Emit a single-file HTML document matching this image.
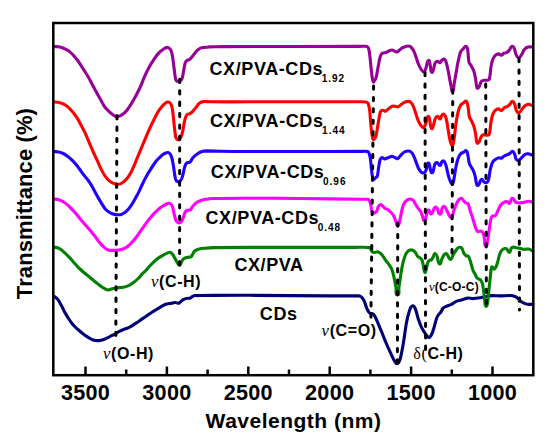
<!DOCTYPE html>
<html><head><meta charset="utf-8"><style>
html,body{margin:0;padding:0;background:#fff;}
body{width:550px;height:440px;overflow:hidden;position:relative;}
svg{position:absolute;left:0;top:0;}
text{font-family:"Liberation Sans",sans-serif;font-weight:bold;fill:#000;}
.s{font-family:"Liberation Serif",serif;font-weight:normal;}
.su{font-family:"Liberation Serif",serif;font-weight:normal;font-size:1.08em;}
.si{font-family:"Liberation Serif",serif;font-weight:normal;font-style:italic;font-size:1.05em;}
</style></head><body>
<svg width="550" height="440" viewBox="0 0 550 440">
<g fill="none" stroke-width="3.1" stroke-linejoin="round" stroke-linecap="round">
<path d="M54.0 296.3C55.2 297.2 56.6 297.9 57.5 299.1C58.9 300.8 59.9 302.8 61.0 304.8C62.2 307.0 63.2 309.4 64.4 311.6C65.5 313.5 66.6 315.4 67.8 317.3C68.9 319.0 69.9 320.8 71.2 322.4C72.6 324.2 74.1 325.9 75.7 327.5C77.1 328.9 78.8 330.2 80.3 331.5C81.2 332.3 82.1 333.0 83.0 333.7C84.1 334.5 85.1 335.3 86.2 336.1C87.2 336.8 88.3 337.5 89.4 338.1C90.4 338.7 91.4 339.3 92.5 339.7C93.5 340.1 94.6 340.3 95.7 340.5C96.8 340.6 97.8 340.7 98.9 340.6C100.0 340.5 101.1 340.4 102.1 340.1C103.2 339.8 104.3 339.4 105.3 338.9C106.4 338.4 107.4 337.8 108.5 337.3C109.5 336.8 110.6 336.2 111.6 335.7C112.7 335.2 113.8 334.7 114.8 334.1C115.9 333.5 116.9 332.7 118.0 332.1C119.0 331.5 120.1 331.0 121.2 330.5C122.0 330.1 122.8 329.8 123.6 329.5C124.8 329.0 126.1 328.7 127.3 328.2C128.5 327.7 129.7 327.1 130.9 326.4C132.1 325.7 133.3 324.9 134.5 324.1C135.7 323.3 137.0 322.6 138.2 321.8C139.4 321.0 140.6 319.9 141.8 319.1C143.0 318.3 144.3 317.6 145.5 316.8C146.7 316.0 147.9 315.0 149.1 314.1C150.3 313.3 151.5 312.6 152.7 311.8C153.9 311.0 155.2 310.3 156.4 309.5C157.6 308.8 158.8 308.0 160.0 307.3C161.3 306.6 162.5 305.7 163.8 305.1C164.7 304.7 165.7 304.4 166.7 304.1C167.6 303.9 168.6 303.8 169.6 303.6C170.6 303.4 171.5 303.3 172.5 303.1C173.5 302.9 174.5 302.5 175.5 302.5C176.5 302.5 177.4 303.3 178.4 303.3C178.9 303.3 179.4 302.8 179.8 302.5C180.6 301.9 181.2 301.0 182.0 300.4C182.9 299.8 183.9 299.3 184.9 298.9C185.8 298.5 186.8 298.3 187.8 298.2C188.5 298.1 189.3 298.4 190.0 298.2C190.8 297.9 191.4 297.1 192.2 296.7C193.1 296.2 194.1 295.8 195.1 295.6C196.0 295.4 197.0 295.6 198.0 295.6C198.7 295.6 199.3 295.5 200.0 295.5C216.7 295.4 233.3 295.2 250.0 295.3C276.7 295.4 303.3 295.8 330.0 295.9C339.5 296.0 348.9 295.7 358.4 295.9C359.2 295.9 360.0 296.1 360.7 296.5C361.6 297.1 362.4 297.9 363.0 298.8C363.7 299.8 364.2 301.0 364.7 302.2C365.4 303.9 365.7 305.6 366.4 307.3C367.0 308.8 367.7 310.4 368.6 311.8C369.0 312.5 369.6 313.1 370.3 313.5C370.8 313.8 371.5 313.3 372.0 313.5C372.7 313.7 373.3 314.2 373.8 314.7C374.5 315.5 375.0 316.5 375.5 317.5C376.2 319.0 376.9 320.5 377.5 322.0C378.9 325.3 380.3 328.5 381.6 331.8C383.1 335.4 384.4 339.0 385.9 342.5C387.3 345.8 388.7 349.0 390.2 352.2C391.6 355.1 392.8 358.1 394.5 360.9C395.2 362.0 395.9 364.0 397.1 363.7C398.7 363.4 399.4 361.3 399.9 359.8C401.4 354.9 402.2 349.8 403.1 344.7C404.4 337.5 405.1 330.3 406.4 323.1C407.2 318.7 408.2 314.4 409.6 310.2C410.1 308.6 410.6 306.5 412.2 305.9C413.3 305.5 414.5 306.9 415.0 308.0C416.6 311.4 417.0 315.2 418.2 318.8C419.2 321.7 420.2 324.6 421.5 327.4C422.4 329.3 423.6 331.0 424.7 332.8C425.2 333.6 425.7 334.3 426.3 335.0C426.8 335.6 427.3 336.3 427.9 336.8C428.3 337.1 429.0 337.8 429.4 337.5C430.6 336.6 431.3 335.2 431.9 333.8C433.0 331.4 433.6 328.8 434.4 326.3C435.3 323.4 435.8 320.4 436.9 317.5C437.3 316.4 438.1 315.4 438.8 314.4C439.3 313.7 440.1 313.2 440.6 312.5C441.6 311.1 442.0 309.3 443.1 308.1C443.9 307.2 445.2 306.8 446.3 306.3C447.9 305.6 449.7 305.2 451.3 304.4C453.1 303.5 454.5 302.1 456.3 301.3C457.9 300.6 459.6 300.5 461.3 300.0C463.4 299.4 465.4 298.4 467.5 298.1C469.2 297.9 470.8 298.6 472.5 298.6C475.0 298.5 477.5 298.2 480.0 297.8C482.0 297.5 484.0 296.9 486.0 296.5C488.0 296.1 490.0 295.7 492.0 295.6C494.7 295.5 497.3 295.9 500.0 295.9C503.3 295.9 506.7 295.4 510.0 295.5C511.7 295.6 513.4 295.9 515.0 296.5C516.1 296.9 517.1 297.7 518.0 298.5C519.1 299.4 519.9 300.7 521.0 301.5C522.2 302.4 523.6 303.1 525.0 303.6C526.3 304.1 527.6 304.3 529.0 304.4C530.3 304.5 531.7 304.1 533.0 304.0" stroke="#000078"/>
<path d="M54.0 247.2C55.2 247.4 56.5 247.3 57.6 247.7C58.9 248.2 60.1 248.9 61.2 249.7C62.7 250.8 64.0 252.1 65.3 253.3C66.7 254.6 68.1 256.0 69.4 257.4C70.8 258.9 72.1 260.5 73.4 262.0C74.8 263.5 76.1 265.1 77.5 266.6C78.8 268.0 80.2 269.2 81.6 270.5C82.9 271.7 84.3 272.8 85.7 274.0C87.2 275.3 88.8 276.5 90.3 277.8C91.5 278.8 92.7 279.7 93.9 280.7C95.1 281.7 96.3 282.7 97.5 283.6C98.7 284.6 99.9 285.5 101.2 286.4C102.4 287.2 103.6 287.9 104.8 288.6C105.8 289.1 106.8 289.9 108.0 290.0C109.1 290.1 110.1 289.4 111.2 289.1C112.4 288.8 113.6 288.4 114.8 288.2C116.3 287.9 117.9 287.8 119.4 287.6C121.1 287.4 122.8 287.4 124.5 287.0C126.1 286.6 127.6 286.0 129.1 285.3C130.7 284.5 132.2 283.6 133.6 282.5C135.2 281.3 136.8 279.9 138.2 278.5C139.8 276.9 141.1 275.0 142.7 273.4C143.6 272.5 144.7 271.7 145.6 270.8C147.0 269.3 148.1 267.7 149.5 266.2C151.0 264.6 152.5 263.1 154.1 261.6C155.5 260.3 157.0 259.0 158.6 257.9C160.1 256.9 161.6 256.0 163.2 255.1C164.7 254.3 166.2 253.5 167.7 252.9C168.5 252.6 169.3 252.1 170.1 252.3C171.1 252.6 171.8 253.5 172.5 254.3C173.5 255.5 174.1 256.9 174.9 258.3C175.7 259.8 176.4 261.3 177.3 262.7C177.9 263.6 178.3 264.9 179.3 265.1C180.0 265.3 180.5 264.1 180.9 263.5C181.5 262.5 181.7 261.3 182.4 260.3C182.9 259.5 183.6 258.8 184.4 258.3C185.1 257.8 186.0 257.7 186.8 257.5C187.6 257.3 188.4 257.2 189.2 257.1C189.9 257.0 190.7 257.1 191.2 256.7C191.8 256.2 192.0 255.4 192.4 254.7C192.9 253.8 193.4 252.8 194.0 251.9C194.4 251.3 194.9 250.8 195.5 250.5C196.7 249.9 197.9 249.3 199.2 249.0C201.1 248.5 203.1 248.4 205.1 248.2C208.1 247.9 211.0 247.7 214.0 247.6C226.0 247.4 238.0 247.4 250.0 247.4C266.7 247.4 283.3 247.4 300.0 247.4C318.3 247.4 336.7 247.3 355.0 247.4C359.8 247.4 364.7 246.9 369.5 247.6C370.3 247.7 370.5 248.9 371.0 249.6C371.5 250.3 371.5 251.3 372.2 251.8C372.8 252.3 373.8 252.5 374.6 252.5C375.6 252.5 376.5 251.7 377.5 251.8C378.6 252.0 379.7 252.6 380.5 253.3C381.7 254.3 382.5 255.7 383.4 256.9C384.4 258.3 385.3 259.9 386.3 261.3C387.2 262.5 388.3 263.6 389.2 264.9C390.3 266.5 391.4 268.2 392.1 270.0C393.1 272.8 393.6 275.8 394.3 278.7C394.9 281.6 395.4 284.6 396.0 287.5C396.5 290.0 395.0 295.0 397.5 295.0C400.0 295.0 398.5 290.0 398.9 287.5C399.6 283.1 400.1 278.8 400.8 274.4C401.4 270.5 402.1 266.6 403.0 262.7C403.6 260.3 404.3 257.8 405.2 255.5C405.7 254.2 406.4 252.9 407.4 251.8C408.2 250.9 409.2 250.2 410.3 249.9C411.3 249.7 412.3 250.0 413.2 250.4C414.1 250.9 414.8 251.7 415.4 252.5C416.2 253.6 416.6 255.1 417.5 256.2C418.1 256.9 419.0 257.0 419.7 257.6C420.5 258.3 421.5 258.9 421.9 259.8C422.7 261.6 422.9 263.7 423.4 265.6C423.9 267.8 423.4 270.4 424.8 272.2C425.5 273.1 426.0 270.3 426.3 269.3C427.0 267.1 427.0 264.8 427.7 262.7C428.0 261.9 428.5 261.0 429.2 260.5C429.8 260.0 430.9 260.3 431.4 259.8C432.4 258.8 432.8 257.4 433.5 256.2C434.0 255.3 434.0 253.4 435.0 253.6C436.3 253.9 436.8 255.7 437.3 257.0C438.3 259.2 437.4 262.8 439.5 263.9C441.0 264.7 441.0 260.8 441.8 259.3C442.6 257.8 443.0 256.1 444.1 254.8C444.6 254.1 445.7 253.1 446.4 253.6C447.9 254.6 448.1 256.8 449.2 258.2C449.6 258.7 450.4 259.7 450.9 259.3C452.2 258.2 452.4 256.3 453.2 254.8C454.1 253.2 454.9 251.6 456.0 250.2C456.8 249.1 457.6 247.9 458.9 247.4C459.8 247.1 461.1 247.3 461.7 248.0C463.0 249.6 463.0 251.9 464.0 253.6C464.5 254.5 465.4 255.3 466.3 255.9C466.9 256.3 468.1 255.9 468.5 256.5C469.7 258.3 470.1 260.6 470.8 262.7C471.7 265.3 472.1 268.1 473.1 270.7C473.6 271.9 474.5 272.9 475.1 274.1C475.8 275.4 476.2 277.1 477.2 278.2C478.0 279.0 479.4 278.9 480.2 279.7C481.2 280.7 481.8 282.0 482.3 283.3C482.9 284.9 483.0 286.7 483.3 288.4C483.7 291.1 484.0 293.9 484.3 296.6C484.6 299.5 484.7 302.4 485.3 305.3C485.4 305.8 486.0 306.6 486.4 306.3C487.1 305.7 487.2 304.6 487.4 303.7C487.9 301.0 488.1 298.3 488.4 295.6C488.8 292.2 489.0 288.7 489.4 285.3C489.7 282.2 490.1 279.2 490.4 276.1C490.7 273.2 490.8 270.3 491.4 267.5C491.5 267.1 492.0 266.6 492.3 266.8C493.2 267.3 493.7 269.6 494.5 269.0C496.3 267.7 496.7 265.1 497.4 263.0C498.4 260.1 498.7 256.9 499.8 254.0C500.4 252.5 501.2 251.0 502.3 249.8C502.9 249.1 503.9 248.8 504.8 248.6C505.5 248.5 506.3 248.6 506.8 249.0C507.9 249.9 507.9 252.8 509.3 252.5C510.9 252.2 510.4 249.5 511.3 248.2C511.8 247.6 512.6 247.1 513.4 247.0C514.4 246.9 515.2 247.6 516.2 247.8C517.3 248.0 518.4 248.0 519.5 248.2C521.1 248.5 522.7 249.2 524.4 249.3C525.8 249.4 527.1 248.8 528.5 249.0C530.0 249.2 531.2 250.1 532.6 250.7" stroke="#008000"/>
<path d="M54.0 199.0C55.6 199.2 57.2 199.3 58.7 199.7C60.3 200.2 61.8 200.9 63.2 201.7C64.8 202.7 66.4 203.9 67.8 205.1C69.4 206.5 70.8 208.1 72.3 209.6C73.9 211.3 75.4 212.9 76.9 214.7C78.5 216.6 79.9 218.5 81.4 220.4C82.6 221.8 83.8 223.1 85.0 224.5C86.0 225.7 87.1 226.8 88.1 228.0C89.1 229.2 90.1 230.3 91.1 231.5C92.1 232.8 93.2 234.0 94.2 235.3C95.3 236.7 96.3 238.1 97.3 239.5C98.3 240.8 99.2 242.2 100.3 243.4C101.3 244.5 102.3 245.6 103.4 246.6C104.4 247.5 105.4 248.5 106.5 249.2C107.3 249.7 108.1 250.1 109.0 250.3C110.2 250.5 111.4 250.4 112.6 250.4C113.8 250.4 115.0 250.3 116.2 250.2C117.5 250.1 118.8 250.1 120.0 249.8C121.7 249.4 123.5 248.9 125.0 248.1C126.8 247.1 128.5 245.8 130.0 244.4C131.8 242.7 133.4 240.8 135.0 238.8C136.8 236.6 138.3 234.2 140.0 231.9C141.7 229.5 143.3 227.2 145.0 224.8C146.0 223.4 147.0 222.0 148.1 220.6C149.1 219.4 150.1 218.2 151.1 217.0C152.1 215.8 153.1 214.6 154.2 213.4C155.2 212.3 156.2 211.3 157.3 210.3C158.3 209.4 159.3 208.6 160.3 207.8C161.3 207.0 162.3 206.4 163.4 205.7C164.4 205.1 165.4 204.5 166.5 204.0C167.3 203.6 168.1 203.2 169.0 203.2C169.8 203.2 170.6 203.6 171.1 204.2C171.9 205.1 172.2 206.2 172.6 207.3C173.1 208.7 173.3 210.1 173.6 211.5C173.9 212.9 174.2 214.4 174.6 215.8C175.0 217.4 175.3 219.1 176.1 220.6C176.5 221.5 177.2 222.3 178.1 222.7C178.7 223.0 179.6 223.0 180.2 222.7C180.9 222.4 181.3 221.7 181.7 221.1C182.3 220.0 182.7 218.8 183.2 217.6C183.8 216.1 184.1 214.5 184.8 213.0C185.3 212.0 185.9 211.0 186.8 210.4C187.4 210.0 188.2 210.4 188.9 210.2C189.6 210.0 190.4 209.9 190.9 209.4C191.6 208.7 191.8 207.6 192.4 206.8C193.2 205.7 194.0 204.7 195.0 203.8C195.9 203.0 197.0 202.3 198.1 201.7C199.2 201.1 200.5 200.6 201.7 200.2C202.7 199.9 203.7 199.6 204.7 199.4C205.5 199.3 206.2 199.3 207.0 199.2C208.5 199.0 209.9 198.5 211.4 198.5C222.6 198.2 233.8 198.2 245.0 198.2C263.3 198.2 281.7 198.3 300.0 198.5C320.0 198.7 340.0 199.1 360.0 199.3C362.2 199.3 364.3 199.1 366.5 199.2C367.4 199.3 368.4 199.2 369.0 199.9C369.9 201.0 370.1 202.5 370.5 203.8C371.0 205.7 371.1 207.7 371.6 209.6C371.9 210.6 372.1 211.7 372.8 212.5C373.2 212.9 373.9 213.2 374.5 213.0C375.4 212.7 376.2 211.9 376.7 211.1C377.5 209.8 377.4 208.1 378.2 206.7C378.7 205.8 379.4 204.7 380.4 204.5C381.2 204.4 381.8 205.4 382.5 206.0C383.3 206.7 383.9 207.6 384.7 208.2C385.6 208.8 386.7 209.0 387.6 209.6C388.6 210.2 389.6 210.9 390.5 211.8C391.6 212.9 392.7 214.1 393.5 215.5C394.6 217.5 395.2 219.9 396.1 222.0C396.6 223.2 396.5 225.9 397.8 225.6C399.3 225.3 399.2 222.8 399.6 221.3C400.4 218.2 400.8 214.9 401.5 211.8C402.1 209.3 402.6 206.8 403.6 204.5C404.3 203.0 405.2 201.6 406.5 200.5C407.5 199.6 408.9 199.1 410.2 199.0C411.2 199.0 412.3 199.5 413.1 200.2C414.1 201.2 414.6 202.6 415.3 203.8C416.0 205.0 416.7 206.3 417.5 207.5C418.4 208.8 419.6 209.8 420.4 211.1C421.3 212.7 421.8 214.5 422.5 216.2C423.1 217.6 422.7 220.5 424.3 220.5C425.9 220.5 425.7 217.7 426.2 216.2C426.8 214.3 426.7 212.2 427.6 210.4C427.8 210.0 428.8 210.0 429.1 210.4C430.0 211.4 429.7 213.5 431.0 214.0C431.9 214.3 432.2 212.6 432.7 211.8C433.5 210.4 433.7 208.5 434.9 207.5C435.5 207.0 436.6 207.6 437.1 208.2C438.4 210.0 437.8 214.2 440.0 214.2C442.2 214.2 441.1 210.0 442.1 208.1C442.5 207.3 443.5 206.0 444.3 206.4C445.8 207.2 446.1 209.2 446.9 210.7C447.8 212.4 448.4 214.3 449.5 215.9C450.0 216.7 451.1 218.3 451.7 217.6C453.2 215.7 453.0 213.0 453.8 210.7C454.6 208.4 455.4 206.0 456.4 203.8C457.1 202.3 457.9 200.8 459.0 199.5C459.5 198.9 460.3 198.1 461.1 198.3C462.1 198.5 462.6 199.7 463.3 200.4C464.2 201.3 464.9 202.3 465.9 203.0C466.5 203.4 467.6 203.1 468.0 203.8C469.2 205.9 469.5 208.4 470.2 210.7C471.1 213.3 472.0 215.9 472.8 218.5C473.7 221.4 474.3 224.3 475.4 227.1C476.0 228.6 476.4 230.5 477.7 231.5C478.5 232.1 479.7 230.8 480.6 231.1C481.7 231.4 482.7 232.2 483.2 233.2C484.2 235.3 484.1 237.8 484.6 240.1C485.0 242.1 483.9 245.5 485.8 246.1C487.5 246.6 487.1 242.8 487.5 241.0C488.3 237.3 488.6 233.5 489.2 229.7C489.8 226.0 490.1 222.2 491.0 218.5C491.3 217.5 491.8 216.5 492.7 215.9C493.4 215.4 494.7 216.2 495.3 215.6C496.6 214.3 497.1 212.4 497.9 210.7C498.8 209.0 499.3 207.1 500.4 205.5C501.3 204.2 502.5 203.1 503.9 202.4C504.9 201.8 506.2 201.5 507.4 201.7C508.3 201.9 508.7 204.0 509.4 203.5C510.9 202.4 510.5 199.9 511.7 198.6C512.1 198.2 513.0 198.6 513.4 199.0C514.5 199.9 514.8 201.6 516.0 202.4C517.0 203.0 518.2 203.0 519.4 203.0C521.2 202.9 522.9 202.4 524.6 202.1C526.1 201.8 527.5 201.2 529.0 201.2C530.1 201.2 531.0 201.9 532.0 202.2" stroke="#ff00ff"/>
<path d="M54.0 151.6C55.6 151.7 57.2 151.7 58.7 152.0C60.2 152.3 61.8 152.8 63.2 153.5C64.8 154.3 66.3 155.3 67.8 156.4C69.4 157.6 70.9 158.9 72.3 160.3C73.9 161.9 75.5 163.7 76.9 165.5C78.5 167.5 79.9 169.6 81.4 171.7C82.6 173.3 83.8 174.9 85.0 176.5C86.1 177.9 87.4 179.2 88.4 180.6C89.6 182.3 90.7 184.1 91.8 185.9C93.0 188.0 94.1 190.1 95.2 192.2C96.3 194.3 97.4 196.4 98.6 198.4C99.7 200.3 100.8 202.2 102.0 204.1C103.1 205.8 104.1 207.6 105.5 209.2C106.5 210.3 107.7 211.2 108.9 212.0C110.0 212.7 111.1 213.3 112.3 213.8C113.4 214.2 114.5 214.4 115.7 214.6C116.7 214.8 117.8 214.8 118.8 214.8C119.6 214.8 120.4 214.8 121.2 214.5C122.3 214.1 123.4 213.5 124.4 212.8C125.5 212.0 126.6 211.1 127.5 210.1C128.7 208.9 129.7 207.5 130.7 206.1C131.9 204.4 132.9 202.7 133.9 200.9C135.0 199.1 136.1 197.2 137.1 195.3C137.9 193.8 138.7 192.2 139.5 190.6C140.2 189.2 140.7 187.7 141.4 186.3C142.4 184.2 143.4 182.0 144.5 179.9C145.5 177.9 146.6 175.9 147.7 173.9C148.7 172.2 149.8 170.5 150.9 168.8C151.9 167.2 153.0 165.6 154.1 164.0C155.1 162.6 156.2 161.1 157.3 159.8C158.2 158.7 159.3 157.8 160.3 156.8C161.3 155.9 162.3 154.9 163.4 154.2C164.4 153.6 165.4 153.0 166.5 152.7C167.1 152.5 167.9 152.4 168.5 152.7C169.4 153.1 170.1 153.9 170.6 154.7C171.3 155.9 171.7 157.2 172.0 158.5C172.6 160.6 172.9 162.8 173.3 165.0C173.7 167.5 174.0 170.0 174.4 172.5C174.7 174.7 174.9 176.9 175.5 179.0C175.8 179.9 176.3 180.9 177.1 181.3C177.9 181.7 178.9 181.7 179.7 181.3C180.7 180.8 181.2 179.7 181.7 178.7C182.4 177.1 182.8 175.3 183.2 173.6C183.8 171.2 184.0 168.8 184.8 166.5C185.2 165.2 185.8 163.9 186.8 162.9C187.3 162.4 188.2 162.6 188.9 162.4C189.4 162.3 190.0 162.3 190.4 161.9C191.1 161.2 191.3 160.1 191.9 159.3C192.7 158.2 193.5 157.1 194.5 156.2C195.4 155.3 196.5 154.5 197.6 153.7C198.5 153.0 199.5 152.5 200.6 152.0C201.6 151.6 202.6 151.3 203.7 151.1C204.8 150.9 205.9 150.9 207.0 150.9C211.5 151.0 216.0 151.2 220.5 151.3C228.7 151.4 236.8 151.5 245.0 151.5C263.3 151.5 281.7 151.5 300.0 151.5C320.0 151.5 340.0 151.4 360.0 151.4C362.2 151.4 364.4 151.1 366.5 151.4C367.3 151.5 368.3 151.8 368.7 152.5C369.6 154.0 369.9 155.8 370.2 157.5C370.8 160.9 370.9 164.3 371.3 167.7C371.6 170.6 371.9 173.6 372.4 176.5C372.6 177.5 372.5 179.0 373.4 179.4C374.1 179.8 374.7 178.4 375.3 177.9C375.9 177.4 377.0 177.2 377.2 176.5C378.1 173.7 378.1 170.6 378.6 167.7C379.1 165.0 379.3 162.3 380.1 159.7C380.4 158.8 380.9 157.6 381.8 157.5C382.9 157.3 383.6 159.0 384.7 159.0C386.0 159.0 387.1 157.9 388.4 157.5C389.6 157.1 390.7 156.4 392.0 156.4C393.0 156.4 393.9 157.1 394.9 157.5C395.8 157.9 396.6 159.0 397.5 158.7C398.9 158.2 399.6 156.5 400.7 155.4C401.9 154.2 402.9 152.8 404.4 152.0C405.7 151.3 407.2 150.9 408.7 151.0C409.8 151.1 410.8 151.7 411.6 152.5C412.6 153.5 413.2 154.8 413.8 156.1C414.7 158.0 415.3 160.0 416.0 161.9C416.7 163.8 417.3 165.9 418.2 167.7C419.0 169.3 419.8 170.9 421.1 172.1C421.8 172.8 423.1 173.2 424.0 172.8C425.1 172.3 425.8 171.0 426.2 169.9C427.0 167.8 426.7 165.4 427.6 163.4C427.8 162.9 428.9 162.9 429.1 163.4C430.0 165.4 429.8 167.8 430.5 169.9C430.8 170.9 430.9 172.8 432.0 172.8C433.1 172.8 433.2 170.9 433.5 169.9C434.1 168.0 434.0 165.9 434.9 164.1C435.3 163.3 436.2 162.4 437.1 162.6C438.4 163.0 438.6 165.7 440.0 165.5C441.3 165.3 440.9 163.0 441.7 162.0C442.2 161.4 443.2 160.6 443.8 161.1C445.1 162.1 445.5 163.9 446.0 165.5C446.8 168.0 447.2 170.6 447.8 173.2C448.3 175.2 448.8 177.3 449.5 179.3C450.0 180.6 450.4 181.9 451.2 183.1C451.5 183.6 452.3 184.6 452.6 184.1C453.7 182.1 453.8 179.7 454.2 177.5C454.9 174.1 455.2 170.6 455.9 167.2C456.5 164.3 457.1 161.3 458.1 158.5C458.7 156.8 459.5 155.1 460.7 153.7C461.3 153.0 462.5 152.9 463.3 152.5C464.3 152.0 465.4 150.1 466.3 150.8C467.8 151.9 467.6 154.2 468.0 156.0C468.6 158.5 468.6 161.2 469.4 163.7C469.8 165.0 470.8 166.0 471.4 167.2C472.2 168.6 473.1 170.0 473.7 171.5C474.5 173.4 474.9 175.5 475.4 177.5C476.0 180.1 475.9 182.9 477.1 185.3C477.4 185.9 478.5 185.0 478.9 184.5C480.0 182.9 479.8 180.2 481.5 179.3C482.6 178.8 483.0 181.2 484.0 181.9C484.7 182.4 485.5 183.0 486.3 182.7C487.3 182.3 488.1 181.2 488.4 180.1C489.5 176.5 489.5 172.6 490.4 168.9C491.0 166.5 491.6 164.2 492.7 162.0C493.3 160.9 494.3 160.1 495.3 159.4C496.3 158.7 497.5 157.9 498.7 157.7C499.6 157.5 500.5 158.5 501.3 158.2C502.5 157.8 503.1 156.6 504.2 156.0C505.2 155.4 506.3 155.2 507.4 154.7C508.3 154.3 509.2 153.9 510.0 153.4C510.9 152.8 511.4 151.1 512.5 151.3C513.7 151.5 514.1 153.1 514.6 154.2C515.4 155.9 515.3 157.9 516.3 159.4C516.8 160.1 517.8 160.5 518.6 160.3C519.7 160.0 520.4 159.0 521.2 158.2C522.4 157.1 523.2 155.6 524.6 154.7C525.6 154.0 526.9 153.6 528.1 153.7C529.5 153.8 530.7 154.6 532.0 155.1" stroke="#2000ff"/>
<path d="M54.0 102.0C55.6 102.1 57.2 102.1 58.7 102.4C60.2 102.7 61.8 103.2 63.2 103.9C64.8 104.7 66.4 105.7 67.8 106.9C69.4 108.3 70.9 109.9 72.3 111.5C74.0 113.5 75.5 115.5 76.9 117.7C78.6 120.3 79.9 123.0 81.4 125.7C82.6 128.0 83.9 130.3 85.0 132.7C86.5 135.9 87.7 139.1 89.1 142.3C90.5 145.5 91.8 148.6 93.2 151.8C94.5 154.8 95.9 157.7 97.3 160.7C98.7 163.7 99.9 166.7 101.4 169.6C102.6 172.0 103.9 174.4 105.5 176.6C106.7 178.3 108.0 179.8 109.6 181.1C110.8 182.1 112.2 182.7 113.6 183.3C114.7 183.8 115.8 184.1 117.0 184.2C118.2 184.3 119.4 184.3 120.5 183.9C122.0 183.3 123.3 182.3 124.5 181.2C126.0 179.8 127.4 178.2 128.6 176.4C130.2 174.0 131.5 171.5 132.7 168.9C134.2 165.7 135.4 162.3 136.8 159.0C138.2 155.7 139.5 152.4 140.9 149.1C142.3 145.9 143.6 142.6 145.0 139.4C146.1 136.7 147.2 134.1 148.4 131.4C149.5 128.9 150.6 126.4 151.8 124.0C152.9 121.7 154.0 119.4 155.2 117.2C156.3 115.1 157.3 112.9 158.6 110.9C159.6 109.3 160.8 107.8 162.0 106.4C163.1 105.2 164.2 103.9 165.5 103.0C166.3 102.4 167.3 101.9 168.3 102.0C169.2 102.1 170.1 102.7 170.6 103.5C171.5 105.0 172.0 106.8 172.3 108.6C172.9 111.6 173.1 114.7 173.4 117.7C173.8 121.1 174.1 124.6 174.5 128.0C174.9 131.0 175.0 134.1 175.7 137.0C176.0 138.0 176.6 139.0 177.4 139.6C177.9 139.9 178.6 139.9 179.1 139.6C180.0 139.0 180.6 138.0 181.0 137.0C181.8 135.2 182.3 133.3 182.7 131.4C183.3 128.8 183.6 126.1 184.1 123.4C184.5 121.3 184.9 119.2 185.6 117.2C186.0 116.1 186.5 115.0 187.3 114.3C187.9 113.8 188.8 114.1 189.5 113.8C190.3 113.4 191.1 112.9 191.8 112.3C192.7 111.6 193.4 110.7 194.1 109.8C194.9 108.9 195.6 107.9 196.4 107.0C197.3 105.8 198.0 104.4 199.2 103.4C200.3 102.5 201.6 101.8 203.0 101.6C205.3 101.3 207.7 101.8 210.0 101.8C223.3 101.9 236.7 101.8 250.0 101.8C266.7 101.8 283.3 101.8 300.0 101.8C320.0 101.8 340.0 101.7 360.0 101.8C361.9 101.8 363.9 101.7 365.8 102.0C366.6 102.1 367.6 102.5 368.0 103.2C368.9 105.0 369.2 107.0 369.5 109.0C370.1 112.8 370.2 116.7 370.5 120.6C370.9 124.5 371.1 128.4 371.6 132.3C371.9 134.5 372.2 136.7 372.8 138.8C372.9 139.2 373.5 139.7 373.8 139.5C374.7 138.8 375.3 137.7 375.7 136.6C376.5 134.3 376.8 131.8 377.2 129.4C377.8 126.0 378.2 122.6 378.9 119.2C379.4 116.5 379.5 113.7 380.7 111.2C381.1 110.4 382.4 110.2 383.3 110.2C384.1 110.2 384.7 111.5 385.5 111.2C387.0 110.7 387.8 109.2 389.1 108.3C390.2 107.5 391.4 106.5 392.7 106.1C393.6 105.8 394.6 106.3 395.6 106.4C396.4 106.5 397.3 107.1 398.1 106.8C399.4 106.3 400.3 105.1 401.5 104.3C402.7 103.5 403.8 102.5 405.1 102.0C406.2 101.5 407.5 101.2 408.7 101.4C409.8 101.6 410.9 102.3 411.6 103.2C412.6 104.4 413.2 106.0 413.8 107.5C414.7 109.7 415.3 111.9 416.0 114.1C416.7 116.3 417.3 118.5 418.2 120.6C419.0 122.4 419.9 124.1 421.1 125.7C421.7 126.5 422.4 127.9 423.3 127.6C424.6 127.2 425.0 125.5 425.5 124.3C426.3 122.4 426.5 120.4 427.2 118.5C427.5 117.7 427.8 115.8 428.4 116.3C429.6 117.2 429.4 119.1 429.8 120.6C430.5 123.2 429.8 126.5 431.6 128.6C432.5 129.6 433.0 126.3 433.5 125.0C434.3 122.9 434.3 120.5 435.3 118.5C435.8 117.5 436.7 116.2 437.8 116.3C438.9 116.4 438.9 119.1 440.0 118.9C441.2 118.6 440.9 116.5 441.7 115.5C442.2 114.8 443.1 113.7 443.8 114.1C445.1 114.9 445.6 116.6 446.0 118.0C446.9 121.1 447.2 124.3 447.8 127.5C448.4 131.0 448.8 134.5 449.5 137.9C449.9 140.0 450.4 142.0 451.2 144.0C451.5 144.7 452.3 146.4 452.6 145.7C453.8 143.3 453.8 140.5 454.2 137.9C454.9 133.3 455.2 128.7 455.9 124.1C456.5 120.0 457.1 116.0 458.1 112.0C458.7 109.6 459.5 107.2 460.7 105.1C461.3 104.1 462.4 103.6 463.3 103.0C464.3 102.4 465.4 100.6 466.3 101.3C467.8 102.5 467.6 104.9 468.0 106.8C468.7 110.2 468.6 113.8 469.4 117.2C469.7 118.5 470.8 119.4 471.4 120.6C472.2 122.3 473.1 124.0 473.7 125.8C474.4 128.0 474.9 130.4 475.4 132.7C476.1 136.1 475.9 139.8 477.1 143.1C477.3 143.7 478.5 142.8 478.9 142.2C480.1 140.4 480.3 138.0 481.5 136.2C482.1 135.4 483.0 134.7 484.0 134.5C484.9 134.3 485.7 135.3 486.6 135.3C487.5 135.3 488.9 135.4 489.2 134.5C490.5 130.6 490.2 126.4 490.9 122.4C491.4 119.8 491.8 117.1 492.7 114.6C493.3 113.0 494.1 111.5 495.3 110.3C496.2 109.5 497.5 108.8 498.7 108.9C499.7 109.0 500.3 110.8 501.3 110.6C502.6 110.3 503.1 108.5 504.2 107.7C505.1 107.1 506.4 107.1 507.4 106.5C508.4 105.9 509.2 105.0 510.0 104.2C510.9 103.3 511.2 101.3 512.5 101.3C513.7 101.3 514.1 103.1 514.6 104.2C515.4 106.1 515.4 108.4 516.3 110.3C516.8 111.4 517.4 112.9 518.6 112.9C519.8 112.9 520.4 111.2 521.2 110.3C522.4 108.9 523.2 107.2 524.6 106.0C525.6 105.1 526.8 104.3 528.1 104.2C529.5 104.1 530.7 105.0 532.0 105.4" stroke="#ff0000"/>
<path d="M54.0 46.5C55.3 46.6 56.5 46.7 57.8 46.8C58.9 46.9 60.0 47.0 61.0 47.3C62.3 47.7 63.6 48.2 64.9 48.8C66.3 49.5 67.7 50.2 68.9 51.1C70.3 52.2 71.7 53.4 72.9 54.7C74.3 56.2 75.6 57.9 76.9 59.5C78.0 60.9 79.0 62.4 80.0 63.9C80.8 65.2 81.6 66.5 82.4 67.8C83.4 69.4 84.5 70.9 85.5 72.5C86.6 74.2 87.6 75.8 88.6 77.5C89.8 79.6 90.9 81.8 92.0 84.0C93.2 86.2 94.3 88.3 95.5 90.5C96.7 92.6 97.8 94.7 99.0 96.8C100.1 98.8 101.2 100.7 102.3 102.7C103.2 104.2 103.9 105.8 105.0 107.2C106.0 108.5 107.2 109.6 108.4 110.8C109.5 111.9 110.6 112.9 111.8 113.9C112.9 114.8 114.0 115.6 115.2 116.2C115.7 116.5 116.4 116.6 117.0 116.6C118.0 116.5 119.1 116.3 120.0 115.9C121.5 115.2 122.9 114.3 124.1 113.2C125.4 112.1 126.5 110.8 127.5 109.5C128.7 107.9 129.8 106.1 130.9 104.4C132.5 101.8 134.0 99.1 135.5 96.4C137.2 93.3 138.8 90.2 140.3 87.0C141.8 83.6 143.0 80.1 144.5 76.7C145.9 73.5 147.4 70.4 149.1 67.3C150.5 64.8 152.0 62.3 153.6 59.9C155.0 57.7 156.5 55.5 158.2 53.6C159.5 52.1 161.1 50.8 162.7 49.7C164.1 48.7 165.6 47.4 167.3 47.4C168.6 47.4 169.8 48.6 170.6 49.7C171.5 51.0 171.7 52.7 172.1 54.3C172.6 56.3 172.8 58.4 173.1 60.4C173.5 63.1 173.8 65.9 174.1 68.6C174.5 71.3 174.7 74.1 175.2 76.8C175.4 78.1 175.5 79.5 176.2 80.6C176.6 81.2 177.5 81.3 178.2 81.4C178.8 81.5 179.5 81.3 180.0 81.0C180.7 80.6 181.5 80.1 181.8 79.3C182.6 77.2 182.9 74.9 183.3 72.7C183.7 70.6 184.0 68.6 184.4 66.5C184.7 65.1 184.9 63.7 185.4 62.4C185.7 61.6 186.2 60.9 186.9 60.4C187.6 59.9 188.8 59.9 189.5 59.4C190.7 58.6 191.6 57.4 192.5 56.3C193.6 55.0 194.5 53.5 195.6 52.2C196.5 51.1 197.5 50.0 198.7 49.2C199.9 48.4 201.4 47.9 202.8 47.6C204.5 47.2 206.3 47.3 208.0 47.1C208.7 47.0 209.3 46.9 210.0 46.9C215.0 46.8 220.0 46.6 225.0 46.6C250.0 46.5 275.0 46.5 300.0 46.5C320.0 46.5 340.0 46.5 360.0 46.4C361.9 46.4 363.9 46.1 365.8 46.3C366.6 46.4 367.5 46.6 368.0 47.3C368.8 48.4 369.0 49.7 369.2 51.0C369.7 54.0 370.0 57.0 370.3 60.0C370.7 63.3 370.9 66.7 371.3 70.0C371.6 72.7 371.8 75.4 372.3 78.0C372.5 79.4 372.5 81.0 373.4 82.0C373.8 82.5 374.1 81.0 374.5 80.5C374.9 79.9 375.6 79.3 375.8 78.6C376.5 76.5 376.8 74.2 377.2 72.0C377.6 70.0 377.9 68.0 378.3 66.0C378.6 64.3 378.9 62.7 379.2 61.0C379.5 59.5 379.8 58.0 380.3 56.5C380.6 55.6 380.9 54.7 381.5 54.0C381.9 53.5 382.4 53.2 383.0 53.0C383.9 52.7 385.0 52.8 385.9 52.5C387.1 52.1 388.1 51.3 389.3 50.8C390.2 50.4 391.1 49.9 392.1 50.0C393.2 50.1 394.0 51.0 395.0 51.4C395.7 51.7 396.5 52.2 397.2 52.0C398.3 51.6 399.1 50.5 400.0 49.7C400.7 49.1 401.3 48.5 402.0 48.0C402.7 47.5 403.6 47.3 404.4 47.0C405.6 46.6 406.8 46.0 408.0 46.0C409.0 46.0 410.1 46.3 410.9 47.0C412.2 48.1 413.0 49.6 413.8 51.1C414.7 52.9 415.3 55.0 416.0 56.9C416.8 59.1 417.3 61.4 418.2 63.5C419.0 65.5 419.9 67.5 421.1 69.3C421.8 70.3 422.8 72.2 424.0 71.7C425.6 71.0 425.6 68.7 426.2 67.1C426.9 65.2 426.8 63.1 427.6 61.3C427.8 60.8 428.8 60.0 429.1 60.5C430.1 62.5 430.0 64.9 430.5 67.1C430.9 68.8 430.3 71.2 431.7 72.2C432.6 72.9 433.1 70.4 433.5 69.3C434.2 67.4 434.1 65.3 434.9 63.5C435.3 62.6 436.1 61.5 437.1 61.3C438.2 61.1 438.9 62.9 440.0 62.7C440.9 62.5 441.0 61.1 441.7 60.5C442.5 59.9 443.4 58.7 444.3 59.1C445.5 59.6 445.8 61.3 446.2 62.5C447.0 64.9 447.5 67.5 448.0 70.0C448.7 73.2 449.2 76.4 449.8 79.6C450.3 82.1 450.7 84.5 451.3 87.0C451.6 88.4 451.6 92.4 452.5 91.3C454.2 89.3 453.7 86.1 454.2 83.5C454.8 80.4 455.4 77.2 455.9 74.1C456.5 70.7 457.0 67.4 457.6 64.0C458.1 61.5 458.7 58.9 459.3 56.4C459.7 54.8 460.0 53.2 460.7 51.8C461.3 50.6 462.4 49.7 463.3 48.7C464.1 47.8 464.7 46.2 465.9 46.3C467.0 46.4 467.4 48.1 467.6 49.2C468.4 53.5 468.1 57.9 469.0 62.2C469.3 63.5 470.5 64.4 471.1 65.6C472.0 67.3 473.1 69.0 473.7 70.8C474.5 73.0 474.9 75.4 475.4 77.7C476.1 81.1 475.9 84.8 477.1 88.1C477.3 88.7 478.5 87.8 478.9 87.2C480.1 85.4 480.2 83.0 481.5 81.2C482.0 80.5 483.1 80.5 484.0 80.3C484.9 80.1 485.7 80.4 486.6 80.3C487.5 80.2 488.9 80.4 489.2 79.5C490.5 75.6 490.2 71.4 490.9 67.4C491.4 64.8 491.8 62.1 492.7 59.6C493.3 58.0 494.1 56.5 495.3 55.3C496.2 54.5 497.5 53.9 498.7 53.9C499.7 53.9 500.3 55.4 501.3 55.3C502.4 55.2 502.9 53.7 503.9 53.2C504.7 52.8 505.7 53.1 506.5 52.7C507.5 52.2 508.3 51.3 509.1 50.4C510.2 49.1 510.6 46.9 512.2 46.3C513.1 45.9 513.9 47.5 514.3 48.4C515.2 50.3 515.1 52.5 516.0 54.4C516.6 55.7 517.2 57.7 518.6 57.9C519.8 58.1 520.5 56.3 521.2 55.3C522.5 53.4 523.1 51.0 524.6 49.2C525.5 48.1 526.8 47.4 528.1 47.0C529.3 46.6 530.7 47.0 532.0 47.0" stroke="#960096"/>
</g>
<g stroke="#000" stroke-width="3" stroke-dasharray="3.3 8.1" stroke-linecap="round">
<line x1="117.0" y1="115.7" x2="115.8" y2="336.0"/>
<line x1="179.7" y1="79.3" x2="179.6" y2="265.0"/>
<line x1="373.6" y1="86.0" x2="370.9" y2="318.0"/>
<line x1="397.8" y1="223.0" x2="397.4" y2="363.0"/>
<line x1="425.0" y1="72.5" x2="425.6" y2="353.0"/>
<line x1="452.8" y1="90.0" x2="452.0" y2="256.0"/>
<line x1="485.7" y1="84.0" x2="486.4" y2="306.0"/>
<line x1="519.0" y1="58.5" x2="519.5" y2="310.0"/>
</g>
<g stroke="#000" stroke-width="2.5" fill="none">
<rect x="53.3" y="23" width="480" height="352.2"/>
<line x1="492.5" y1="374" x2="492.5" y2="366.5"/>
<line x1="451.8" y1="374" x2="451.8" y2="369.5"/>
<line x1="411.1" y1="374" x2="411.1" y2="366.5"/>
<line x1="370.4" y1="374" x2="370.4" y2="369.5"/>
<line x1="329.7" y1="374" x2="329.7" y2="366.5"/>
<line x1="289.0" y1="374" x2="289.0" y2="369.5"/>
<line x1="248.3" y1="374" x2="248.3" y2="366.5"/>
<line x1="207.6" y1="374" x2="207.6" y2="369.5"/>
<line x1="166.9" y1="374" x2="166.9" y2="366.5"/>
<line x1="126.2" y1="374" x2="126.2" y2="369.5"/>
<line x1="85.5" y1="374" x2="85.5" y2="366.5"/>
</g>
<g font-size="21.6" letter-spacing="0.3">
<text x="492.5" y="399.5" text-anchor="middle">1000</text>
<text x="411.1" y="399.5" text-anchor="middle">1500</text>
<text x="329.7" y="399.5" text-anchor="middle">2000</text>
<text x="248.3" y="399.5" text-anchor="middle">2500</text>
<text x="166.9" y="399.5" text-anchor="middle">3000</text>
<text x="85.5" y="399.5" text-anchor="middle">3500</text>
</g>
<text x="205.6" y="427.5" font-size="21" letter-spacing="0.5">Wavelength (nm)</text>
<text transform="translate(31.9 203.6) rotate(-90)" text-anchor="middle" font-size="22" letter-spacing="0.1">Transmittance (%)</text>
<g font-size="18" letter-spacing="0.6">
<text x="209.5" y="75.1">CX/PVA-CDs<tspan font-size="10" letter-spacing="1" dx="-1.5" dy="7">1.92</tspan></text>
<text x="209.9" y="127.1">CX/PVA-CDs<tspan font-size="10" letter-spacing="1" dx="-1.5" dy="7.2">1.44</tspan></text>
<text x="210.8" y="177.8">CX/PVA-CDs<tspan font-size="10" letter-spacing="1" dx="-1.5" dy="7.2">0.96</tspan></text>
<text x="205.5" y="223.9">CX/PVA-CDs<tspan font-size="10" letter-spacing="1" dx="-1.5" dy="7.4">0.48</tspan></text>
<text x="234.4" y="270.5">CX/PVA</text>
<text x="259.8" y="320.1">CDs</text>
</g>
<g font-size="16" letter-spacing="0.6">
<text x="103" y="359.2"><tspan class="si">&#957;</tspan>(O-H)</text>
<text x="151" y="286.8"><tspan class="si">&#957;</tspan>(C-H)</text>
<text x="321.6" y="336.3"><tspan class="si">&#957;</tspan>(C=O)</text>
<text x="413.3" y="359.1"><tspan class="s">&#948;(</tspan>C-H)</text>
</g>
<text x="429" y="291" font-size="12" letter-spacing="0.2"><tspan class="si">&#957;</tspan>(C-O-C)</text>
</svg>
</body></html>
